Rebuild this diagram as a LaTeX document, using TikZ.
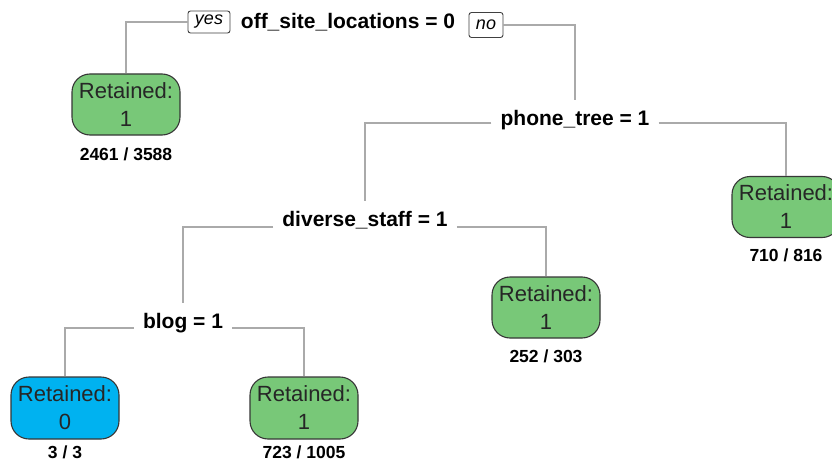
\documentclass[tikz,border=0pt]{standalone}
\usepackage{fontspec}
\setmainfont{Liberation Sans}
\usetikzlibrary{positioning}
\definecolor{leafgreen}{RGB}{120,200,120}
\definecolor{leafblue}{RGB}{0,178,240}
\definecolor{leafborder}{RGB}{55,55,55}
\definecolor{edgegray}{RGB}{170,170,170}
\begin{document}
\begin{tikzpicture}[x=1pt,y=-1pt,
  split/.style={font=\fontsize{21}{25}\selectfont\bfseries, inner xsep=9pt, inner ysep=10pt, anchor=base},
  leaf/.style={draw=leafborder, line width=1.1pt, rounded corners=18pt, minimum width=108pt, minimum height=61pt, align=center, font=\fontsize{22}{28}\selectfont, inner sep=2pt, text=black!85},
  tag/.style={draw=black!75, line width=0.9pt, rounded corners=2.5pt, font=\fontsize{18}{20}\selectfont\itshape, inner sep=0pt},
  count/.style={font=\fontsize{17.5}{20}\selectfont\bfseries, inner sep=0pt},
  edge/.style={draw=edgegray, line width=1.6pt}]
\clip (0,0) rectangle (832,468);
\fill[white] (0,0) rectangle (832,468);

% split nodes
\node[split] (root) at (348,29) {off\_site\_locations = 0};
\node[tag, minimum width=42pt, minimum height=22pt] (yes) at (209,22) {yes};
\node[tag, minimum width=34pt, minimum height=25pt] (no) at (486,25) {no};
\node[split] (phone) at (575,125) {phone\_tree = 1};
\node[split] (diverse) at (365,226) {diverse\_staff = 1};
\node[split] (blog) at (183,328) {blog = 1};

% leaves
\node[leaf, fill=leafgreen] (leaf1) at (126,104.5) {Retained:\\1};
\node[leaf, fill=leafgreen] (leafR) at (786,207) {Retained:\\1};
\node[leaf, fill=leafgreen] (leafM) at (546,307.5) {Retained:\\1};
\node[leaf, fill=leafblue, minimum height=62pt] (leafB) at (65,408) {Retained:\\0};
\node[leaf, fill=leafgreen, minimum height=62pt] (leafG) at (304,408) {Retained:\\1};

% counts
\node[count, below=12pt of leaf1] (c1) {2461 / 3588};
\node[count, below=11pt of leafR] (cR) {710 / 816};
\node[count, below=11pt of leafM] (cM) {252 / 303};
\node[count, below=6pt of leafB] (cB) {3 / 3};
\node[count, below=6pt of leafG] (cG) {723 / 1005};

% edges
\draw[edge] (yes.west) -| (leaf1.north);
\draw[edge] (no.east) -| (phone.north);
\draw[edge] ([yshift=2pt]phone.base west) -| (diverse.north);
\draw[edge] ([yshift=2pt]phone.base east) -| (leafR.north);
\draw[edge] ([yshift=-1pt]diverse.base west) -| (blog.north);
\draw[edge] ([yshift=-1pt]diverse.base east) -| (leafM.north);
\draw[edge] (blog.base west) -| (leafB.north);
\draw[edge] (blog.base east) -| (leafG.north);
\end{tikzpicture}
\end{document}
